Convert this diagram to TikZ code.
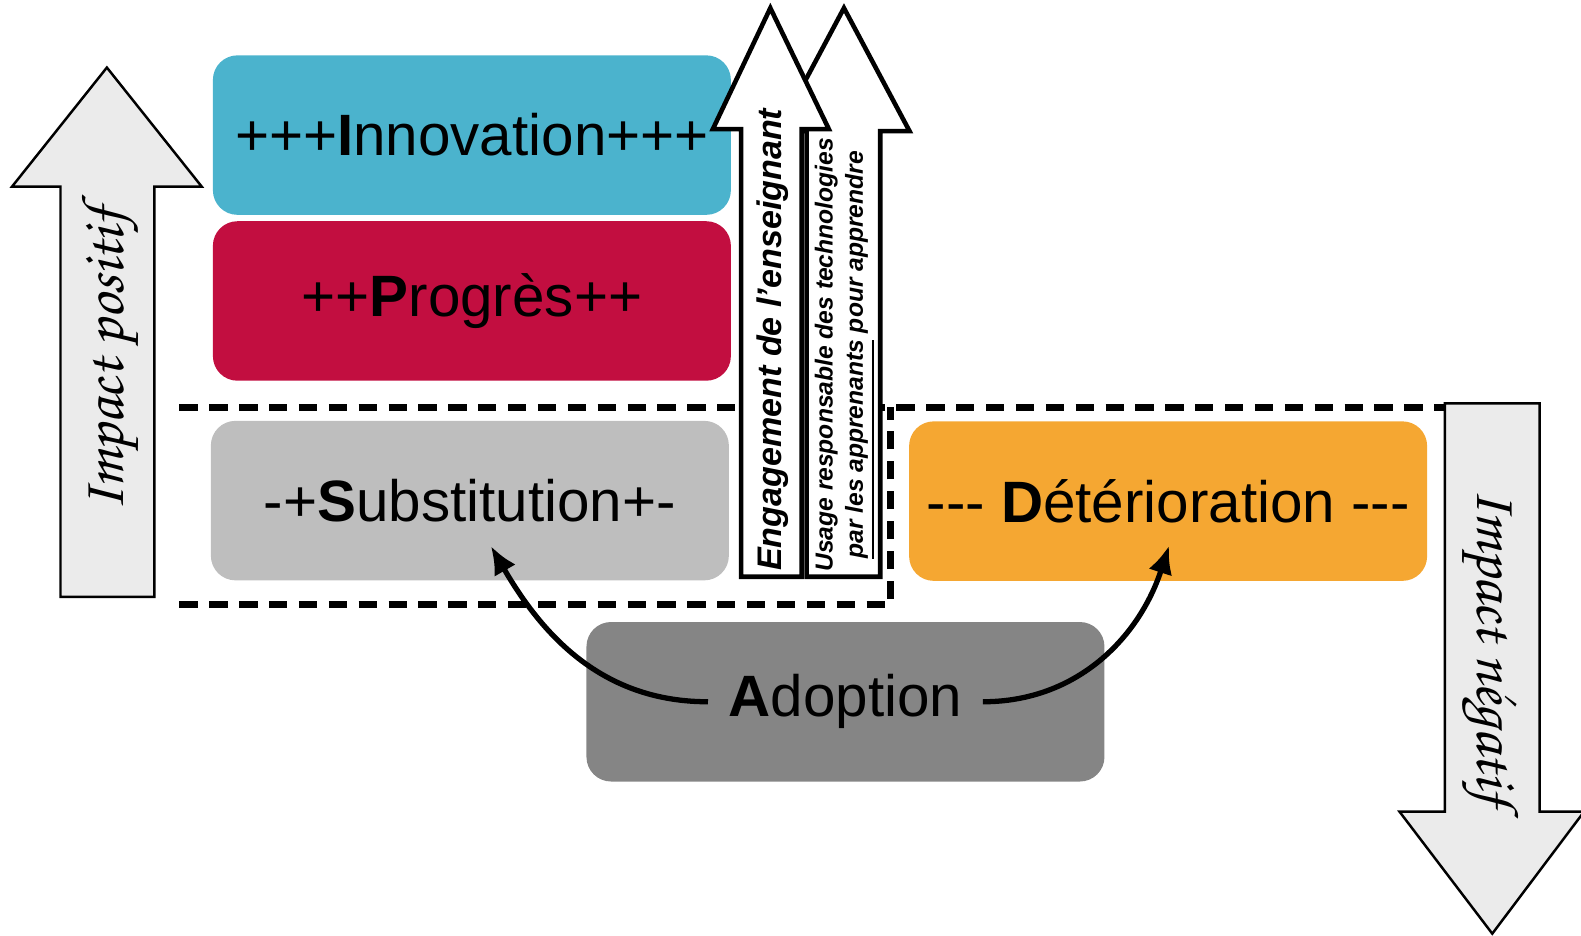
\documentclass[tikz,border=0pt]{standalone}
\usepackage[T1]{fontenc}
\usepackage{fontspec}
\setmainfont{Liberation Sans}
\usetikzlibrary{arrows.meta}

\definecolor{innovblue}{RGB}{75,179,205}
\definecolor{progred}{RGB}{194,14,64}
\definecolor{substgray}{RGB}{190,190,190}
\definecolor{deterorange}{RGB}{245,167,50}
\definecolor{adoptgray}{RGB}{133,133,133}
\definecolor{impactgray}{RGB}{235,235,235}

\newcommand{\scripttxt}{\fontencoding{T1}\fontfamily{pzc}\fontseries{mb}\fontshape{it}\fontsize{17.2}{20}\selectfont}

\tikzset{
  level/.style={rounded corners=7pt, minimum width=5.18cm, minimum height=1.595cm,
    inner sep=0pt, font=\fontsize{16.6}{20}\selectfont},
  bigarrow/.style={fill=impactgray, draw=black, line width=0.7pt},
  engarrow/.style={fill=white, draw=black, line width=1.3pt, line join=miter},
  dashline/.style={line width=2pt, dash pattern=on 5.2pt off 3.3pt},
  adoptpath/.style={line width=1.5pt, -{Latex[length=8pt,width=7pt]}}
}

\begin{document}
\begin{tikzpicture}[x=1.0083cm, y=1.0083cm]
\useasboundingbox (0,0) rectangle (15.68,-9.283);

%% dashed frame
\draw[dashline] (1.78,-6.00) -- (8.83,-6.00) -- (8.83,-4.04);
\draw[dashline] (1.78,-4.04) -- (14.33,-4.04);

%% impact arrows
\draw[bigarrow] (0.60,-5.92) -- (0.60,-1.85) -- (0.12,-1.85) -- (1.06,-0.67)
  -- (2.00,-1.85) -- (1.53,-1.85) -- (1.53,-5.92) -- cycle;
\draw[bigarrow] (14.33,-4.00) -- (15.27,-4.00) -- (15.27,-8.05) -- (15.71,-8.05)
  -- (14.80,-9.26) -- (13.88,-8.05) -- (14.33,-8.05) -- cycle;
\node[rotate=90] (pos) at (1.10,-3.57) {\scripttxt Impact positif};
\node[rotate=-90] (neg) at (14.77,-6.42) {\scripttxt Impact n\'{e}gatif};

%% levels
\node[level, fill=innovblue] (innov) at (4.68,-1.34) {+++\textbf{I}nnovation+++};
\node[level, fill=progred] (prog) at (4.68,-2.985) {++\textbf{P}rogrès++};
\node[level, fill=substgray] (subst) at (4.66,-4.965) {-+\textbf{S}ubstitution+-};
\node[level, fill=deterorange] (deter) at (11.585,-4.97) {-{}-{}- \textbf{D}étérioration -{}-{}-};
\node[level, fill=adoptgray] (adopt) at (8.385,-6.96) {};
\node[font=\fontsize{16.6}{20}\selectfont, inner xsep=2mm] (adtxt) at (adopt.center) {\textbf{A}doption};

%% engagement arrows
\draw[engarrow] (8.00,-5.72) -- (8.00,-1.30) -- (7.72,-1.30) -- (8.37,-0.08)
  -- (9.02,-1.30) -- (8.73,-1.30) -- (8.73,-5.72) -- cycle;
\draw[engarrow] (7.35,-5.72) -- (7.35,-1.28) -- (7.07,-1.28) -- (7.64,-0.08)
  -- (8.22,-1.28) -- (7.95,-1.28) -- (7.95,-5.72) -- cycle;
\node[rotate=90, font=\bfseries\itshape\fontsize{9.7}{11}\selectfont] (eng) at (7.66,-3.37)
  {Engagement de l'enseignant};
\node[rotate=90, align=center, font=\bfseries\itshape\fontsize{7}{8.6}\selectfont] (usage) at (8.38,-3.52)
  {Usage responsable des technologies\\ \underline{par les apprenants} pour apprendre};

%% adoption paths
\draw[adoptpath] (adtxt.west) to[out=180, in=-60] ([xshift=2.1mm, yshift=3.5mm]subst.south);
\draw[adoptpath] (adtxt.east) to[out=0, in=-108] ([xshift=0.1mm, yshift=3.6mm]deter.south);

\end{tikzpicture}
\end{document}
